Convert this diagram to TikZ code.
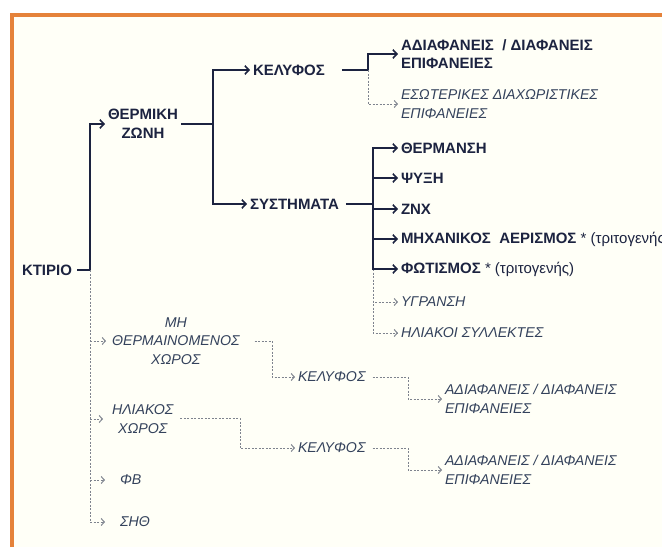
\documentclass[tikz,border=0pt]{standalone}
\usepackage{fontspec}
\setmainfont{Liberation Sans}
\usetikzlibrary{arrows.meta}
\definecolor{navy}{HTML}{1C2340}
\definecolor{slate}{HTML}{34425C}
\definecolor{dgrey}{HTML}{7E838E}
\definecolor{frameor}{HTML}{E5823A}
\begin{document}
\begin{tikzpicture}[x=1pt,y=-1pt,
  every node/.style={inner sep=3pt, outer sep=0pt},
  bnode/.style={text=navy, font=\fontsize{15}{18.5}\selectfont\bfseries, anchor=west},
  inode/.style={text=slate, font=\fontsize{14.2}{18.5}\selectfont\itshape, anchor=west},
  sline/.style={draw=navy, line width=1.6pt},
  sarr/.style={sline, -{Straight Barb[length=4pt,width=8.5pt]}},
  dline/.style={draw=dgrey, line width=1pt, dash pattern=on 2pt off 1.5pt},
  darr/.style={dline, -{Straight Barb[length=3.2pt,width=7pt]}},
  framebar/.style={draw=frameor, line width=4.5pt, line join=miter}
]
\useasboundingbox[fill=white] (0,0) rectangle (662,547);
\fill[white!97!yellow] (12,15) rectangle (662,547);
\draw[framebar] (12,547) -- (12,15) -- (662,15);

% ---- nodes ----
\node[bnode] (ktirio) at (19,270) {ΚΤΙΡΙΟ};
\node[bnode, align=center] (thermiki) at (105,124) {ΘΕΡΜΙΚΗ\\ΖΩΝΗ};
\node[bnode] (kelyfos) at (250,70) {ΚΕΛΥΦΟΣ};
\node[bnode] (systimata) at (247,204) {ΣΥΣΤΗΜΑΤΑ};
\node[bnode, align=left] (adiaf) at (398,54) {ΑΔΙΑΦΑΝΕΙΣ \ / ΔΙΑΦΑΝΕΙΣ\\ΕΠΙΦΑΝΕΙΕΣ};
\node[inode, align=left] (esot) at (398,104) {ΕΣΩΤΕΡΙΚΕΣ ΔΙΑΧΩΡΙΣΤΙΚΕΣ\\ΕΠΙΦΑΝΕΙΕΣ};
\node[bnode] (therm) at (398,148) {ΘΕΡΜΑΝΣΗ};
\node[bnode] (psyxi) at (398,178) {ΨΥΞΗ};
\node[bnode] (znx) at (398,209) {ΖΝΧ};
\node[bnode] (mix) at (398,239) {ΜΗΧΑΝΙΚΟΣ \ ΑΕΡΙΣΜΟΣ {\mdseries * (τριτογενής)}};
\node[bnode] (fot) at (398,269) {ΦΩΤΙΣΜΟΣ {\mdseries * (τριτογενής)}};
\node[inode] (ygr) at (398,302) {ΥΓΡΑΝΣΗ};
\node[inode] (ilsyl) at (398,333) {ΗΛΙΑΚΟΙ ΣΥΛΛΕΚΤΕΣ};

\node[inode, align=center] (mh) at (109,341) {ΜΗ\\ΘΕΡΜΑΙΝΟΜΕΝΟΣ\\ΧΩΡΟΣ};
\node[inode] (kelA) at (295,377) {ΚΕΛΥΦΟΣ};
\node[inode, align=left] (adiafA) at (442,399) {ΑΔΙΑΦΑΝΕΙΣ / ΔΙΑΦΑΝΕΙΣ\\ΕΠΙΦΑΝΕΙΕΣ};
\node[inode, align=center] (ilx) at (109,419) {ΗΛΙΑΚΟΣ\\ΧΩΡΟΣ};
\node[inode] (kelB) at (295,448) {ΚΕΛΥΦΟΣ};
\node[inode, align=left] (adiafB) at (442,470) {ΑΔΙΑΦΑΝΕΙΣ / ΔΙΑΦΑΝΕΙΣ\\ΕΠΙΦΑΝΕΙΕΣ};
\node[inode] (fv) at (117,480) {ΦΒ};
\node[inode] (sith) at (117,522) {ΣΗΘ};

% ---- junctions ----
\coordinate (j0) at (90,270);
\coordinate (j1) at (213,124);
\coordinate (jk) at (368,70);
\coordinate (js) at (373,204);
\coordinate (jm) at (272,341);
\coordinate (ja) at (408,377);
\coordinate (jh) at (240,418);
\coordinate (jb) at (408,448);

% ---- dashed connectors (below solid ones) ----
\draw[dline] (j0) -- (j0 |- sith.west);
\draw[darr, shorten >=3pt] (j0 |- mh.west) -- (mh.west);
\draw[darr, shorten >=6pt] (j0 |- ilx.west) -- (ilx.west);
\draw[darr, shorten >=12pt] (j0 |- fv.west) -- (fv.west);
\draw[darr, shorten >=12pt] (j0 |- sith.west) -- (sith.west);
\draw[darr, shorten <=12pt] (mh.east) -- (jm) |- (kelA.west);
\draw[darr, shorten <=4pt] (kelA.east) -- (ja) |- (adiafA.west);
\draw[darr, shorten <=4pt] (ilx.east |- jh) -- (jh) |- (kelB.west);
\draw[darr, shorten <=4pt] (kelB.east) -- (jb) |- (adiafB.west);
\draw[darr] (jk) |- (esot.west);
\draw[darr] (js |- fot.west) |- (ygr.west);
\draw[darr] (js |- fot.west) |- (ilsyl.west);

% ---- solid connectors ----
\draw[sline, shorten <=2pt] (ktirio.east) -- (j0);
\draw[sarr] (j0) |- (thermiki.west);
\draw[sline] (thermiki.east) -- (j1);
\draw[sarr] (j1) |- (kelyfos.west);
\draw[sarr] (j1) |- (systimata.west);
\draw[sline, shorten <=14pt] (kelyfos.east) -- (jk);
\draw[sarr] (jk) |- (adiaf.west);
\draw[sline, shorten <=4pt] (systimata.east) -- (js);
\draw[sarr] (js) |- (therm.west);
\draw[sarr] (js) |- (psyxi.west);
\draw[sarr] (js) |- (znx.west);
\draw[sarr] (js) |- (mix.west);
\draw[sarr] (js) |- (fot.west);
\end{tikzpicture}
\end{document}
